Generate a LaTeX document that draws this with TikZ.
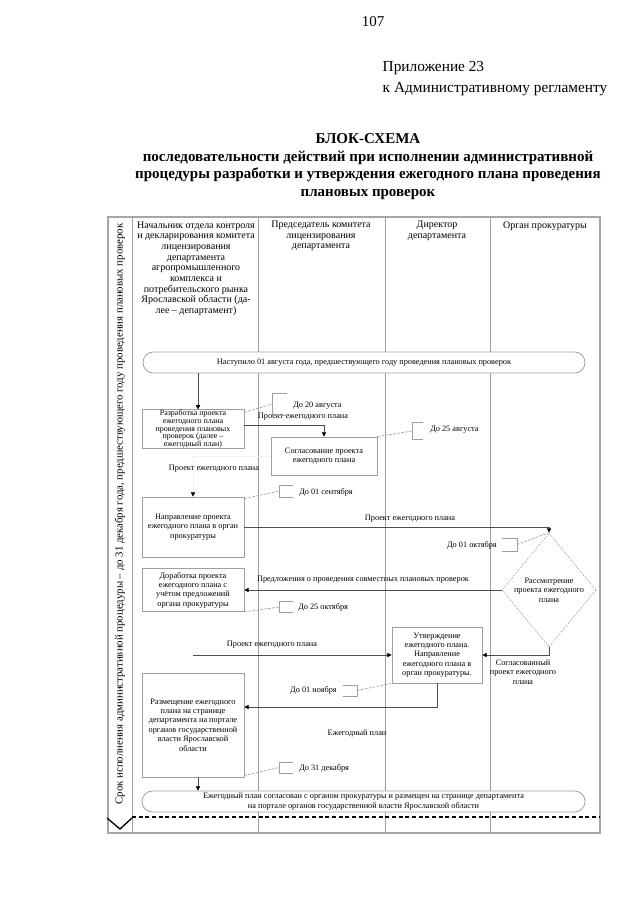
\documentclass[tikz,border=0pt]{standalone}
\usepackage{fontspec}
\setmainfont{Liberation Serif}
\usetikzlibrary{arrows.meta,shapes.geometric,calc}
\newcommand\annbrk[3]{\draw[brk] ($(#1)+(#2,-#3)$) -- ($(#1)+(0,-#3)$) -- ($(#1)+(0,#3)$) -- ($(#1)+(#2,#3)$);}
\begin{document}
\begin{tikzpicture}[x=0.75pt,y=-0.75pt,
  lane/.style={draw=gray!75, line width=0.6pt},
  frame/.style={draw=gray!70, line width=1.8pt},
  box/.style={draw=gray!75, line width=0.6pt, fill=white, inner sep=0pt, align=center, font=\fontsize{6.2}{7}\selectfont},
  term/.style={box, rounded corners=7.8pt},
  conn/.style={draw=gray!60!black, line width=0.55pt, -{Triangle[length=3.2pt,width=3.2pt,color=black]}},
  lbl/.style={inner sep=0pt, align=center, font=\fontsize{6.2}{7}\selectfont},
  ann/.style={inner sep=0pt, font=\fontsize{6.2}{7}\selectfont},
  brk/.style={draw=gray!75, line width=0.5pt},
  annline/.style={draw=gray!75, line width=0.5pt, dash pattern=on 2pt off 1pt},
  hdr/.style={inner sep=0pt, align=center, font=\fontsize{7.5}{8}\selectfont}
]
\useasboundingbox[fill=white] (0,0) rectangle (640,905);

% page header
\node[font=\fontsize{11.25}{13}\selectfont] (pg) at (373,22) {107};
\node[anchor=west, font=\fontsize{11.5}{13}\selectfont] (app1) at (378,68) {Приложение 23};
\node[anchor=west, font=\fontsize{11.5}{13}\selectfont] (app2) at (378,89) {к Административному регламенту};
\node[align=center, font=\bfseries\fontsize{11.25}{13.25}\selectfont] (title) at (368,166.5)
  {БЛОК-СХЕМА\\последовательности действий при исполнении административной\\процедуры разработки и утверждения ежегодного плана проведения\\плановых проверок};

% frame and lanes
\draw[frame] (108,217) rectangle (600,833);
\draw[lane] (132,217) -- (132,833);
\draw[lane] (258,217) -- (258,833);
\draw[lane] (385,217) -- (385,833);
\draw[lane] (490,217) -- (490,833);

\node[hdr] (h1) at (196,268.5) {Начальник отдела контроля\\и декларирования комитета\\лицензирования\\департамента\\агропромышленного\\комплекса и\\потребительского рынка\\Ярославской области (да-\\лее – департамент)};
\node[hdr] (h2) at (321,236) {Председатель комитета\\лицензирования\\департамента};
\node[hdr] (h3) at (437,231) {Директор\\департамента};
\node[hdr] (h4) at (545,226) {Орган прокуратуры};

\node[rotate=90, inner sep=0pt, font=\fontsize{8.1}{9}\selectfont] (side) at (120,514)
  {Срок исполнения административной процедуры – до 31 декабря года, предшествующего году проведения плановых проверок};

% nodes
\node[term, minimum width=331.5pt, minimum height=15.75pt] (start) at (364,362.5)
  {Наступило 01 августа года, предшествующего году проведения плановых проверок};
\node[box, minimum width=76.5pt, minimum height=28.5pt, font=\fontsize{6}{5.8}\selectfont] (b1) at (193,429)
  {Разработка проекта\\ежегодного плана\\проведения плановых\\проверок (далее –\\ежегодный план)};
\node[box, minimum width=79.5pt, minimum height=28.5pt] (b2) at (324,456)
  {Согласование проекта\\ежегодного плана};
\node[box, minimum width=76.5pt, minimum height=45pt] (b3) at (193,527)
  {Направление проекта\\ежегодного плана в орган\\прокуратуры};
\node[box, minimum width=76.5pt, minimum height=32.25pt] (b4) at (193,590)
  {Доработка проекта\\ежегодного плана с\\учётом предложений\\органа прокуратуры};
\node[box, minimum width=67.5pt, minimum height=42pt] (b5) at (437,655)
  {Утверждение\\ежегодного плана.\\Направление\\ежегодного плана в\\орган прокуратуры.};
\node[box, minimum width=76.5pt, minimum height=78pt, font=\fontsize{6.2}{7.1}\selectfont] (b6) at (193,725)
  {Размещение ежегодного\\плана на странице\\департамента на портале\\органов государственной\\власти Ярославской\\области};
\node[diamond, draw=gray!75, dash pattern=on 1pt off 1pt, line width=0.5pt, fill=white, inner sep=0pt,
  shape aspect=0.8, minimum width=70.5pt, minimum height=85.5pt, align=center,
  font=\fontsize{6.2}{7.2}\selectfont] (dm) at (549,590)
  {Рассмотрение\\проекта ежегодного\\плана};
\node[term, minimum width=332.25pt, minimum height=15.75pt, font=\fontsize{6.2}{7.5}\selectfont] (end) at (363.5,801.5)
  {Ежегодный план согласован с органом прокуратуры и размещен на странице департамента\\на портале органов государственной власти Ярославской области};

% connectors
\coordinate (s1) at ($(b1.north)+(5,0)$);
\draw[conn] (s1 |- start.south) -- (s1);

\coordinate (e1) at ($(b1.east)+(0,-4)$);
\draw[conn] (e1) -| (b2.north);
\node[lbl] (l1) at (303,417) {Проект ежегодного плана};

\draw[conn, draw=gray!12] (b2.west) -| (b3.north);
\node[lbl] (l2) at (214,469) {Проект ежегодного плана};

\draw[conn] (b3.east) -| (dm.north);
\node[lbl] (l3) at (410,519) {Проект ежегодного плана};

\draw[conn] (dm.west) -- (b4.east);
\node[lbl] (l4) at (363,580) {Предложения о проведения совместных плановых проверок};

\coordinate (p6) at (193,655);
\draw[conn] (p6) -- (b5.west);
\node[lbl] (l5) at (272,645) {Проект ежегодного плана};

\draw[conn] (dm.south) |- (b5.east);
\node[lbl] (l6) at (523,672) {Согласованный\\проект ежегодного\\плана};

\coordinate (e6) at ($(b6.east)+(0,-18)$);
\draw[conn] (b5.south) |- (e6);
\node[lbl] (l7) at (357,733) {Ежегодный план};

\coordinate (s6) at ($(b6.south)+(5,0)$);
\draw[conn] (s6) -- (s6 |- end.north);

% annotations
\coordinate (k1) at (272,404);
\annbrk{k1}{15}{11}
\draw[annline] ($(b1.north east)+(0,3)$) -- (k1);
\node[ann, anchor=west] (a1) at (293,406) {До 20 августа};

\coordinate (k2) at (412,431);
\annbrk{k2}{11}{8.5}
\draw[annline] (b2.north east) -- (k2);
\node[ann, anchor=west] (a2) at (430,430) {До 25 августа};

\coordinate (k3) at (279,491);
\annbrk{k3}{14}{6}
\draw[annline] ($(b3.north east)+(0,2)$) -- (k3);
\node[ann, anchor=west] (a3) at (299,492) {До 01 сентября};

\coordinate (k4) at (517,544.5);
\annbrk{k4}{-15}{6.5}
\draw[annline] (k4) -- (dm.north);
\node[ann, anchor=east] (a4) at (497,545) {До 01 октября};

\coordinate (k5) at (279,607);
\annbrk{k5}{14}{5.5}
\draw[annline] (b4.south east) -- (k5);
\node[ann, anchor=west] (a5) at (298,607) {До 25 октября};

\coordinate (k6) at (357,690.5);
\annbrk{k6}{-14}{5.5}
\draw[annline] (k6) -- (b5.south west);
\node[ann, anchor=east] (a6) at (337,690) {До 01 ноября};

\coordinate (k7) at (279,767.5);
\annbrk{k7}{14}{5.5}
\draw[annline] ($(b6.south east)+(0,-2)$) -- (k7);
\node[ann, anchor=west] (a7) at (299,768) {До 31 декабря};

% bottom marker
\draw[black, line width=1.1pt, dash pattern=on 3pt off 2pt] (132,817) -- (600,817);
\draw[black, line width=1pt] (107,818) -- (120,829) -- (132,818);
\end{tikzpicture}
\end{document}
